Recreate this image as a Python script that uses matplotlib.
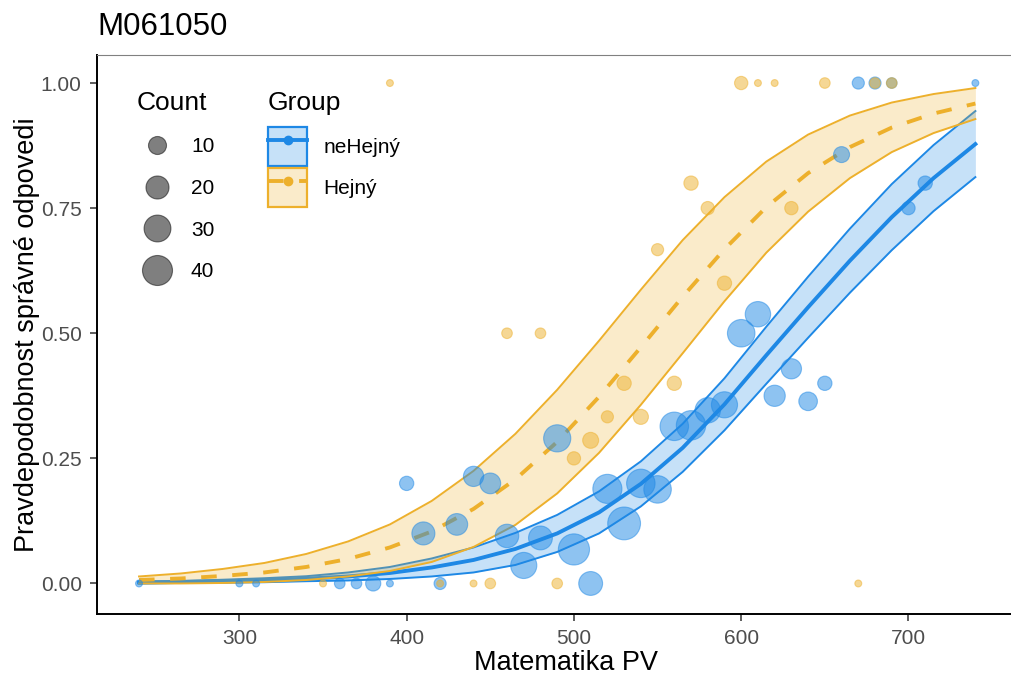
import numpy as np
import matplotlib
matplotlib.use("Agg")
import matplotlib.pyplot as plt
from matplotlib.lines import Line2D
from matplotlib.patches import Patch
from matplotlib.colors import to_rgba

plt.rcParams['font.family'] = ['Liberation Sans', 'DejaVu Sans']

# ---------------- data ----------------
title = "M061050"
x_label = "Matematika PV"
y_label = "Pravdepodobnost správné odpovedi"
groups = ["neHejný", "Hejný"]

# binned observed proportions (points)
ne_x = [240, 300, 310, 360, 370, 380, 390, 400, 410, 420, 430, 440, 450, 460,
        470, 480, 490, 500, 510, 520, 530, 540, 550, 560, 570, 580, 590, 600,
        610, 620, 630, 640, 650, 660, 670, 680, 690, 700, 710, 740]
ne_p = [0, 0, 0, 0, 0, 0, 0, 0.2, 0.1, 0, 0.118, 0.214, 0.2, 0.095,
        0.036, 0.091, 0.29, 0.068, 0, 0.189, 0.12, 0.2, 0.188, 0.314, 0.316, 0.346, 0.357, 0.5,
        0.538, 0.375, 0.429, 0.364, 0.4, 0.857, 1, 1, 1, 0.75, 0.8, 1]
ne_n = [1, 1, 1, 2, 2, 6, 1, 5, 20, 3, 17, 14, 15, 21,
        28, 22, 31, 44, 22, 37, 50, 35, 32, 35, 38, 26, 28, 32,
        26, 16, 14, 11, 5, 7, 3, 3, 2, 4, 5, 1]

he_x = [350, 390, 420, 440, 450, 460, 480, 490, 500, 510, 520, 530, 540,
        550, 560, 570, 580, 590, 600, 610, 620, 630, 650, 670, 680, 690]
he_p = [0, 1, 0, 0, 0, 0.5, 0.5, 0, 0.25, 0.286, 0.333, 0.4, 0.333,
        0.667, 0.4, 0.8, 0.75, 0.6, 1, 1, 1, 0.75, 1, 0, 1, 1]
he_n = [1, 1, 1, 1, 2, 2, 2, 2, 4, 7, 3, 5, 6,
        3, 5, 5, 4, 5, 4, 1, 1, 4, 2, 1, 2, 2]

# fitted probability curves with confidence band
curve_x = [240, 265, 290, 315, 340, 365, 390, 415, 440, 465, 490,
           515, 540, 565, 590, 615, 640, 665, 690, 715, 740]
ne_fit = [0.002, 0.003, 0.0045, 0.0065, 0.0095, 0.014, 0.021, 0.032, 0.047, 0.069, 0.100,
          0.142, 0.199, 0.271, 0.358, 0.456, 0.552, 0.645, 0.732, 0.810, 0.878]
ne_lo = [0.000, 0.001, 0.0015, 0.0025, 0.0045, 0.006, 0.009, 0.014, 0.022, 0.037, 0.063,
         0.100, 0.154, 0.223, 0.306, 0.399, 0.491, 0.581, 0.666, 0.744, 0.812]
ne_hi = [0.004, 0.005, 0.0075, 0.0105, 0.0145, 0.022, 0.033, 0.050, 0.072, 0.101, 0.137,
         0.184, 0.244, 0.319, 0.410, 0.513, 0.613, 0.709, 0.798, 0.876, 0.944]

he_fit = [0.007, 0.010, 0.015, 0.022, 0.033, 0.049, 0.072, 0.104, 0.149, 0.208, 0.283,
          0.373, 0.472, 0.573, 0.668, 0.752, 0.820, 0.872, 0.911, 0.939, 0.959]
he_lo = [0.000, 0.000, 0.001, 0.003, 0.007, 0.014, 0.025, 0.043, 0.073, 0.117, 0.180,
         0.261, 0.357, 0.460, 0.564, 0.661, 0.743, 0.810, 0.862, 0.900, 0.928]
he_hi = [0.014, 0.020, 0.029, 0.041, 0.059, 0.084, 0.118, 0.165, 0.225, 0.299, 0.387,
         0.485, 0.587, 0.686, 0.772, 0.843, 0.897, 0.935, 0.961, 0.978, 0.990]

count_breaks = [10, 20, 30, 40]
x_ticks = [300, 400, 500, 600, 700]
y_ticks = [0.0, 0.25, 0.5, 0.75, 1.0]
y_tick_labels = ["0.00", "0.25", "0.50", "0.75", "1.00"]

# ---------------- style ----------------
BLUE = "#1E88E5"
ORANGE = "#EDB02C"
DPI = 100


def diam_pt(count):
    d_px = 6.9 + 3.7 * np.sqrt(np.maximum(np.asarray(count, float) - 1, 0))
    return d_px * 72.0 / DPI


fig = plt.figure(figsize=(1012 / DPI, 674 / DPI), dpi=DPI)
ax_left, ax_right, ax_top, ax_bottom = 96.7, 1017.7, 55.0, 614.0
ax = fig.add_axes([ax_left / 1012, (674 - ax_bottom) / 674,
                   (ax_right - ax_left) / 1012, (ax_bottom - ax_top) / 674])

curves = [(ne_fit, ne_lo, ne_hi, BLUE, '-'), (he_fit, he_lo, he_hi, ORANGE, (0, (4, 4)))]
for i, (fit, lo, hi, col, ls) in enumerate(curves):
    zb = 1 + i * 0.5
    ax.fill_between(curve_x, lo, hi, color=col, alpha=0.25, lw=0, zorder=zb)
    ax.plot(curve_x, lo, color=col, lw=1.4, zorder=zb + 0.1, solid_joinstyle='round')
    ax.plot(curve_x, hi, color=col, lw=1.4, zorder=zb + 0.1, solid_joinstyle='round')
    ax.plot(curve_x, fit, color=col, lw=2.8, ls=ls, zorder=zb + 0.2, solid_joinstyle='round')

for xs, ps, ns, col in [(ne_x, ne_p, ne_n, BLUE), (he_x, he_p, he_n, ORANGE)]:
    ax.scatter(xs, ps, s=diam_pt(ns) ** 2, facecolor=to_rgba(col, 0.5),
               edgecolor=to_rgba(col, 0.5), linewidth=0.8, zorder=5)

ax.set_xlim(214.7, 765.3)
ax.set_ylim(-0.061, 1.056)
ax.set_xticks(x_ticks)
ax.set_yticks(y_ticks)
ax.set_yticklabels(y_tick_labels)
ax.tick_params(direction='out', length=4.8, width=1.1, color='#333333',
               labelsize=15, labelcolor='#4D4D4D', pad=6)
for s in ['left', 'bottom']:
    ax.spines[s].set_color('black')
    ax.spines[s].set_linewidth(1.4)
ax.spines['right'].set_visible(False)
ax.spines['top'].set_color('#808080')
ax.spines['top'].set_linewidth(0.8)

ax.set_xlabel(x_label, fontsize=19.5, color='black')
ax.xaxis.set_label_coords((566 - ax_left) / (ax_right - ax_left), (ax_bottom - 650) / (ax_bottom - ax_top))
ax.set_ylabel(y_label, fontsize=19.5, color='black')
ax.yaxis.set_label_coords((40 - ax_left) / (ax_right - ax_left), 0.5)

fig.text(97 / 1012, (674 - 35) / 674, title, fontsize=22.5, va='baseline', ha='left')

# Count legend
count_handles = [Line2D([], [], ls='', marker='o', markersize=diam_pt(c),
                        markerfacecolor=(0, 0, 0, 0.5), markeredgecolor=(0, 0, 0, 0.5),
                        markeredgewidth=0.8) for c in count_breaks]
leg1 = ax.legend(count_handles, [str(c) for c in count_breaks], title='Count',
                 loc='upper left', bbox_to_anchor=(137 / 1012, 1 - 91 / 674),
                 bbox_transform=fig.transFigure, frameon=False, fontsize=15,
                 title_fontsize=19, handlelength=1.92, handletextpad=0.67,
                 labelspacing=1.08, borderpad=0, borderaxespad=0, alignment='left')
ax.add_artist(leg1)

# Group legend
group_handles = []
for col, ls in [(BLUE, '-'), (ORANGE, (0, (4, 4)))]:
    group_handles.append((Patch(facecolor=to_rgba(col, 0.25), edgecolor=col, linewidth=1.6),
                          Line2D([], [], color=col, lw=2.8, ls=ls, marker='o', markersize=6,
                                 markerfacecolor=col, markeredgecolor=col)))
leg2 = ax.legend(group_handles, groups, title='Group',
                 loc='upper left', bbox_to_anchor=(268 / 1012, 1 - 91 / 674),
                 bbox_transform=fig.transFigure, frameon=False, fontsize=15,
                 title_fontsize=19, handlelength=1.875, handleheight=2.5,
                 handletextpad=0.77, labelspacing=0.1, borderpad=0,
                 borderaxespad=0, alignment='left')
leg2._legend_box.sep = 8.7

fig.savefig("out.png", dpi=DPI)
